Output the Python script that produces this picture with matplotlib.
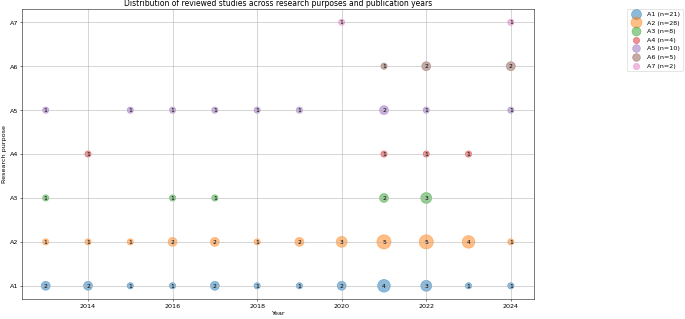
import matplotlib
matplotlib.use("Agg")
import matplotlib.pyplot as plt
import numpy as np

years = [2013, 2014, 2015, 2016, 2017, 2018, 2019, 2020, 2021, 2022, 2023, 2024]
purposes = ["A1", "A2", "A3", "A4", "A5", "A6", "A7"]

# studies per year for each purpose (0 = none)
a1 = [2, 2, 1, 1, 2, 1, 1, 2, 4, 3, 1, 1]
a2 = [1, 1, 1, 2, 2, 1, 2, 3, 5, 5, 4, 1]
a3 = [1, 0, 0, 1, 1, 0, 0, 0, 2, 3, 0, 0]
a4 = [0, 1, 0, 0, 0, 0, 0, 0, 1, 1, 1, 0]
a5 = [1, 0, 1, 1, 1, 1, 1, 0, 2, 1, 0, 1]
a6 = [0, 0, 0, 0, 0, 0, 0, 0, 1, 2, 0, 2]
a7 = [0, 0, 0, 0, 0, 0, 0, 1, 0, 0, 0, 1]
counts = [a1, a2, a3, a4, a5, a6, a7]

# original figure was 15 in wide, shrunk to 685 px
DPI = 685 / 15
fig = plt.figure(figsize=(15.001, 319.4 / DPI))
ax = fig.add_axes([0.0328, 0.0627, 0.7468, 0.9075])

for i, (name, row) in enumerate(zip(purposes, counts)):
    xs = [y for y, c in zip(years, row) if c > 0]
    cs = [c for c in row if c > 0]
    ax.scatter(xs, [i] * len(xs), s=[c * 100 for c in cs], alpha=0.5,
               label=f"{name} (n={sum(cs)})")
    for x, c in zip(xs, cs):
        ax.text(x, i, str(c), ha="center", va="center", fontsize=9.5)

ax.set_yticks(range(len(purposes)), purposes)
ax.set_xlabel("Year")
ax.set_ylabel("Research purpose")
ax.set_title("Distribution of reviewed studies across research purposes and publication years")
ax.grid(True)
fig.legend(loc="upper left", bbox_to_anchor=(0.915, 0.972), borderaxespad=0)

fig.savefig("out.png", dpi=DPI)
